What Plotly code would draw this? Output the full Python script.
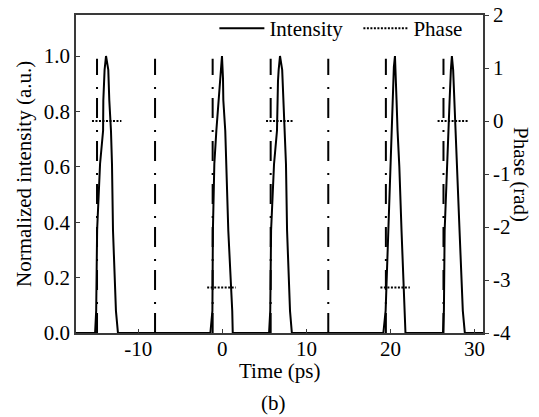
import plotly.graph_objects as go

# ---- data ----
pulse1_t = [-15.13, -15.0, -14.89, -14.54, -14.18, -14.15, -14.07, -14.0, -13.83, -13.56, -13.44, -13.24, -13.12, -13.0, -12.65, -12.41]
pulse1_i = [0, 0.08, 0.37, 0.61, 0.73, 0.84, 0.91, 0.95, 1.0, 0.95, 0.84, 0.73, 0.61, 0.37, 0.08, 0]
pulse2_t = [-1.42, -1.18, -1.12, -0.95, -0.71, -0.47, -0.2, -0.04, 0.08, 0.12, 0.35, 0.71, 1.18, 1.24]
pulse2_i = [0, 0.08, 0.37, 0.61, 0.73, 0.84, 0.95, 1.0, 0.92, 0.84, 0.73, 0.37, 0.08, 0]
pulse3_t = [5.56, 5.7, 5.8, 6.15, 6.5, 6.55, 6.62, 6.7, 6.86, 7.12, 7.25, 7.45, 7.57, 7.7, 8.05, 8.27]
pulse3_i = [0, 0.08, 0.37, 0.61, 0.73, 0.84, 0.91, 0.95, 1.0, 0.95, 0.84, 0.73, 0.61, 0.37, 0.08, 0]
pulse4_t = [19.15, 19.42, 19.74, 19.95, 20.06, 20.21, 20.4, 20.53, 20.65, 20.72, 20.84, 21.05, 21.31, 21.71, 21.78]
pulse4_i = [0, 0.08, 0.37, 0.6, 0.73, 0.84, 0.96, 1.0, 0.93, 0.84, 0.73, 0.6, 0.37, 0.08, 0]
pulse5_t = [26.24, 26.35, 26.44, 26.7, 26.83, 27.03, 27.18, 27.3, 27.45, 27.55, 27.62, 27.9, 28.21, 28.6, 28.84]
pulse5_i = [0, 0.08, 0.37, 0.6, 0.73, 0.84, 0.95, 1.0, 0.95, 0.88, 0.78, 0.6, 0.37, 0.08, 0]
time_start, time_end = -17.4, 31.0

marker_times = [-14.9, -8.0, -1.15, 5.75, 12.6, 19.45, 26.3]
marker_height = 0.99

phase_start = [-15.5, -1.8, 5.2, 18.8, 25.6]
phase_end = [-12.0, 1.6, 8.5, 22.3, 29.3]
phase_value = [0, -3.14, 0, -3.14, 0]

x_ticks = [-10, 0, 10, 20, 30]
x_ticktext = ["-10", "0", "10", "20", "30"]
y_ticks = [0.0, 0.2, 0.4, 0.6, 0.8, 1.0]
y_ticktext = ["0.0", "0.2", "0.4", "0.6", "0.8", "1.0"]
y2_ticks = [-4, -3, -2, -1, 0, 1, 2]
y2_ticktext = ["-4", "-3", "-2", "-1", "0", "1", "2"]

# ---- assemble traces ----
t_int = [time_start] + pulse1_t + pulse2_t + pulse3_t + pulse4_t + pulse5_t + [time_end]
i_int = [0] + pulse1_i + pulse2_i + pulse3_i + pulse4_i + pulse5_i + [0]

mx, my = [], []
for t in marker_times:
    mx += [t, t, None]
    my += [0, marker_height, None]

px_, py_ = [], []
for a, b, v in zip(phase_start, phase_end, phase_value):
    px_ += [a, b, None]
    py_ += [v, v, None]

FONT = "Liberation Serif"
FS = 21
LINE = "#3a3a3a"

fig = go.Figure()
fig.add_trace(go.Scatter(x=mx, y=my, mode="lines", showlegend=False,
                         line=dict(color="black", width=2, dash="20px,9px,2px,12px")))
fig.add_trace(go.Scatter(x=t_int, y=i_int, mode="lines", name="Intensity",
                         line=dict(color="black", width=2)))
fig.add_trace(go.Scatter(x=px_, y=py_, mode="lines", name="Phase", yaxis="y2",
                         line=dict(color="black", width=2, dash="2px,1.5px")))

fig.update_layout(
    width=539, height=417,
    margin=dict(l=76, r=55.5, t=15, b=84, autoexpand=False),
    paper_bgcolor="white", plot_bgcolor="white",
    font=dict(family=FONT, size=FS, color="black"),
    xaxis=dict(range=[time_start, time_end], tickvals=x_ticks, ticktext=x_ticktext,
               ticks="inside", ticklen=4, ticklabelstandoff=-4, automargin=False,
               tickcolor=LINE, showline=True, linecolor=LINE, linewidth=1.5, mirror=True,
               showgrid=False, zeroline=False),
    yaxis=dict(range=[0, 1.148], tickvals=y_ticks, ticktext=y_ticktext, ticks="inside", ticklen=4,
               tickcolor=LINE, showline=True, linecolor=LINE, linewidth=1.5, automargin=False,
               showgrid=False, zeroline=False),
    yaxis2=dict(range=[-4, 2], tickvals=y2_ticks, ticktext=y2_ticktext, overlaying="y", side="right",
                ticks="outside", ticklen=4, tickcolor=LINE, showline=True, linecolor=LINE,
                linewidth=1.5, showgrid=False, zeroline=False, automargin=False),
    legend=dict(orientation="h", x=0.34, xanchor="left", y=1.022, yanchor="top",
                bgcolor="rgba(0,0,0,0)", font=dict(family=FONT, size=FS), itemwidth=45,
                entrywidth=84),
    showlegend=True,
)

fig.add_annotation(text="Normalized intensity (a.u.)", xref="paper", yref="paper",
                   x=0, y=0.5, xshift=-52, textangle=-90, showarrow=False,
                   xanchor="center", yanchor="middle", font=dict(family=FONT, size=FS))
fig.add_annotation(text="Phase (rad)", xref="paper", yref="paper",
                   x=1, y=0.5, xshift=38, textangle=90, showarrow=False,
                   xanchor="center", yanchor="middle", font=dict(family=FONT, size=FS))
fig.add_annotation(text="Time (ps)", xref="paper", yref="paper",
                   x=0.5, y=0, yshift=-38, showarrow=False,
                   xanchor="center", yanchor="middle", font=dict(family=FONT, size=FS))
fig.add_annotation(text="(b)", xref="paper", yref="paper",
                   x=0.5, xshift=-6, y=0, yshift=-70, showarrow=False,
                   xanchor="center", yanchor="middle", font=dict(family=FONT, size=FS))

fig.write_html("out.html")
